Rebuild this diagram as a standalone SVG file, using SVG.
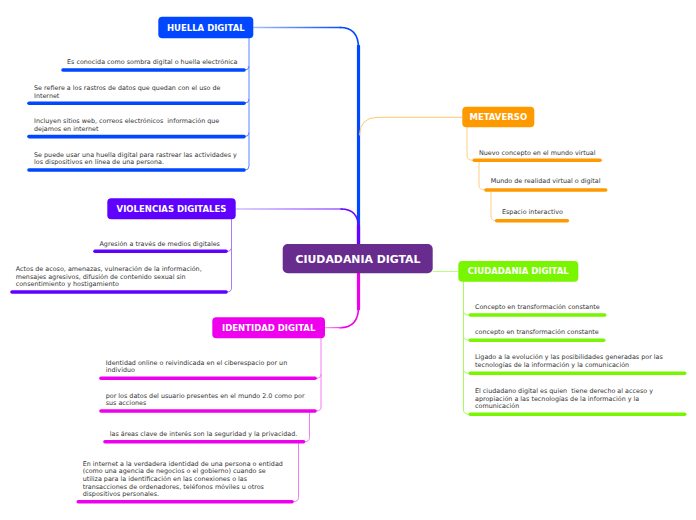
<svg xmlns="http://www.w3.org/2000/svg" width="696" height="520" viewBox="0 0 696 520">
<defs>
<style>
.nt{font-family:"DejaVu Sans",Verdana,sans-serif;font-weight:bold;font-size:8.5px;fill:#fff;text-anchor:middle}
.ct{font-family:"DejaVu Sans",Verdana,sans-serif;font-weight:bold;font-size:10.9px;fill:#fff;text-anchor:middle}
.t{font-family:"DejaVu Sans",Verdana,sans-serif;font-size:6.4px;fill:#333;white-space:pre}
.ul{stroke-width:3.6;stroke-linecap:round;fill:none}
.c{fill:none;stroke-linecap:round}
</style>
<linearGradient id="gB" gradientUnits="userSpaceOnUse" x1="253" y1="0" x2="345" y2="0"><stop offset="0" stop-color="#A9C0FF"/><stop offset="1" stop-color="#0047FF"/></linearGradient>
<linearGradient id="gV" gradientUnits="userSpaceOnUse" x1="236" y1="0" x2="345" y2="0"><stop offset="0" stop-color="#B89CFF"/><stop offset="1" stop-color="#6A00FF"/></linearGradient>
<linearGradient id="gI" gradientUnits="userSpaceOnUse" x1="325" y1="0" x2="350" y2="0"><stop offset="0" stop-color="#F7A0F7"/><stop offset="1" stop-color="#EE00EE"/></linearGradient>
</defs>
<g id="connectors">
<!-- huella -->
<path class="c" d="M358.5,244 V46" stroke="#0047FF" stroke-width="3.2"/>
<path class="c" d="M358.5,48 Q358.5,27.5 340,27.5" stroke="#0047FF" stroke-width="1.6"/>
<path class="c" d="M341,27.5 H253" stroke="url(#gB)" stroke-width="1.3"/>
<!-- violencias -->
<path class="c" d="M358.5,244 V226" stroke="#6A00FF" stroke-width="3.2"/>
<path class="c" d="M358.5,228 Q358.5,209 341,209" stroke="#6A00FF" stroke-width="1.5"/>
<path class="c" d="M342,209 H236" stroke="url(#gV)" stroke-width="1.1"/>
<!-- identidad -->
<path class="c" d="M358.5,273 V309" stroke="#EE00EE" stroke-width="3.2"/>
<path class="c" d="M358.5,307 Q358.5,327.7 340,327.7" stroke="#EE00EE" stroke-width="1.6"/>
<path class="c" d="M341,327.7 H325" stroke="url(#gI)" stroke-width="1.2"/>
<!-- metaverso -->
<path class="c" d="M359.5,135 Q359.5,117.3 378,117.3 H462" stroke="#FFC870" stroke-width="1"/>
<!-- ciudadania -->
<path class="c" d="M433,271.5 H458" stroke="#B8FF80" stroke-width="1"/>
<!-- huella children -->
<g stroke="#5A86FF" stroke-width="1" fill="none">
<path d="M249,38 V166 Q249,170 245,170"/>
<path d="M249,66 Q249,70 245,70"/>
<path d="M249,99 Q249,103 245,103"/>
<path d="M249,132.5 Q249,136.5 245,136.5"/>
</g>
<!-- violencias children -->
<g stroke="#A57BFF" stroke-width="1" fill="none">
<path d="M231.5,219 V288 Q231.5,292 227,292"/>
<path d="M231.5,247 Q231.5,251.3 227,251.3"/>
</g>
<!-- identidad children -->
<g stroke="#F47AF4" stroke-width="1" fill="none">
<path d="M321,338 V407 Q321,411 316,411"/>
<path d="M321,374 Q321,378.3 316,378.3"/>
<path d="M309.5,411 V437.5 Q309.5,441.7 304.5,441.7"/>
<path d="M298.5,441.7 V497.5 Q298.5,501.7 293,501.7"/>
</g>
<!-- metaverso children -->
<g stroke="#FFCE85" stroke-width="1" fill="none">
<path d="M467,127 V156 Q467,160.3 473.5,160.3"/>
<path d="M479,160.3 V185.5 Q479,190 485,190"/>
<path d="M491,190 V216 Q491,220.7 496,220.7"/>
</g>
<!-- ciudadania children -->
<g stroke="#A6FF5C" stroke-width="1" fill="none">
<path d="M463.5,281 V410 Q463.5,414.3 469.5,414.3"/>
<path d="M463.5,311 Q463.5,315 469.5,315"/>
<path d="M463.5,336 Q463.5,340.3 469.5,340.3"/>
<path d="M463.5,369 Q463.5,373.3 469.5,373.3"/>
</g>
</g>
<g id="center">
<rect x="282.7" y="244" width="150" height="29.3" rx="5" fill="#672C8E"/>
<text class="ct" x="358" y="262.7">CIUDADANIA DIGTAL</text>
</g>
<g id="huella">
<rect x="158.3" y="16.7" width="95" height="21.6" rx="4" fill="#0047FF"/>
<text class="nt" x="205.8" y="30.6">HUELLA DIGITAL</text>
</g>
<g id="huella-1">
<line class="ul" x1="63" y1="70" x2="244" y2="70" stroke="#0047FF"/>
<text class="t" x="67" y="64">Es conocida como sombra digital o huella electrónica</text>
</g>
<g id="huella-2">
<line class="ul" x1="29" y1="103.3" x2="244" y2="103.3" stroke="#0047FF"/>
<text class="t" x="34" y="90"><tspan x="34">Se refiere a los rastros de datos que quedan con el uso de</tspan><tspan x="34" dy="7.6">Internet</tspan></text>
</g>
<g id="huella-3">
<line class="ul" x1="29" y1="136.6" x2="244" y2="136.6" stroke="#0047FF"/>
<text class="t" x="34" y="123"><tspan x="34">Incluyen sitios web, correos electrónicos  información que</tspan><tspan x="34" dy="7.6">dejamos en internet</tspan></text>
</g>
<g id="huella-4">
<line class="ul" x1="29" y1="170" x2="244" y2="170" stroke="#0047FF"/>
<text class="t" x="34" y="156.5"><tspan x="34">Se puede usar una huella digital para rastrear las actividades y</tspan><tspan x="34" dy="7.6">los dispositivos en línea de una persona.</tspan></text>
</g>
<g id="violencias">
<rect x="107.3" y="198.3" width="128.4" height="21" rx="4" fill="#6000FF"/>
<text class="nt" x="171.5" y="211.9">VIOLENCIAS DIGITALES</text>
</g>
<g id="violencias-1">
<line class="ul" x1="95" y1="251.3" x2="226" y2="251.3" stroke="#6000FF"/>
<text class="t" x="99.5" y="245.6">Agresión a través de medios digitales</text>
</g>
<g id="violencias-2">
<line class="ul" x1="12" y1="292" x2="226" y2="292" stroke="#6000FF"/>
<text class="t" x="15.7" y="271"><tspan x="15.7">Actos de acoso, amenazas, vulneración de la información,</tspan><tspan x="15.7" dy="7.7">mensajes agresivos, difusión de contenido sexual sin</tspan><tspan x="15.7" dy="7.6">consentimiento y hostigamiento</tspan></text>
</g>
<g id="identidad">
<rect x="212.3" y="317.3" width="112.7" height="21" rx="4" fill="#EE00EE"/>
<text class="nt" x="268.7" y="330.9">IDENTIDAD DIGITAL</text>
</g>
<g id="identidad-1">
<line class="ul" x1="101" y1="378.3" x2="315" y2="378.3" stroke="#EE00EE"/>
<text class="t" x="105.7" y="364.6"><tspan x="105.7">Identidad online o reivindicada en el ciberespacio por un</tspan><tspan x="105.7" dy="7.7">individuo</tspan></text>
</g>
<g id="identidad-2">
<line class="ul" x1="101" y1="411" x2="315" y2="411" stroke="#EE00EE"/>
<text class="t" x="105.7" y="397.6"><tspan x="105.7">por los datos del usuario presentes en el mundo 2.0 como por</tspan><tspan x="105.7" dy="7.7">sus acciones</tspan></text>
</g>
<g id="identidad-3">
<line class="ul" x1="105" y1="441.7" x2="303.5" y2="441.7" stroke="#EE00EE"/>
<text class="t" x="109.7" y="436">las áreas clave de interés son la seguridad y la privacidad.</text>
</g>
<g id="identidad-4">
<line class="ul" x1="78.3" y1="501.7" x2="292" y2="501.7" stroke="#EE00EE"/>
<text class="t" x="82.7" y="465.6"><tspan x="82.7">En internet a la verdadera identidad de una persona o entidad</tspan><tspan x="82.7" dy="7.7">(como una agencia de negocios o el gobierno) cuando se</tspan><tspan x="82.7" dy="7.7">utiliza para la identificación en las conexiones o las</tspan><tspan x="82.7" dy="7.6">transacciones de ordenadores, teléfonos móviles u otros</tspan><tspan x="82.7" dy="7.7">dispositivos personales.</tspan></text>
</g>
<g id="metaverso">
<rect x="462.3" y="106.7" width="72" height="20.6" rx="4" fill="#FF9900"/>
<text class="nt" x="498.3" y="120.2">METAVERSO</text>
</g>
<g id="metaverso-1">
<line class="ul" x1="474.3" y1="160.3" x2="600" y2="160.3" stroke="#FF9900"/>
<text class="t" x="479" y="154.6">Nuevo concepto en el mundo virtual</text>
</g>
<g id="metaverso-2">
<line class="ul" x1="486" y1="190" x2="605.7" y2="190" stroke="#FF9900"/>
<text class="t" x="490.7" y="183.3">Mundo de realidad virtual o digital</text>
</g>
<g id="metaverso-3">
<line class="ul" x1="496.7" y1="220.7" x2="567.3" y2="220.7" stroke="#FF9900"/>
<text class="t" x="502" y="214.3">Espacio interactivo</text>
</g>
<g id="ciudadania">
<rect x="458.3" y="261" width="120" height="20.7" rx="4" fill="#7AF500"/>
<text class="nt" x="518.3" y="274.4">CIUDADANIA DIGITAL</text>
</g>
<g id="ciudadania-1">
<line class="ul" x1="470.3" y1="315" x2="604.7" y2="315" stroke="#7AF500"/>
<text class="t" x="475" y="309">Concepto en transformación constante</text>
</g>
<g id="ciudadania-2">
<line class="ul" x1="470.3" y1="340.3" x2="603.7" y2="340.3" stroke="#7AF500"/>
<text class="t" x="475" y="334">concepto en transformación constante</text>
</g>
<g id="ciudadania-3">
<line class="ul" x1="470.3" y1="373.3" x2="684.7" y2="373.3" stroke="#7AF500"/>
<text class="t" x="475" y="359.3"><tspan x="475">Ligado a la evolución y las posibilidades generadas por las</tspan><tspan x="475" dy="8">tecnologías de la información y la comunicación</tspan></text>
</g>
<g id="ciudadania-4">
<line class="ul" x1="470.3" y1="414.3" x2="684.7" y2="414.3" stroke="#7AF500"/>
<text class="t" x="475" y="393"><tspan x="475">El ciudadano digital es quien  tiene derecho al acceso y</tspan><tspan x="475" dy="7.6">apropiación a las tecnologías de la información y la</tspan><tspan x="475" dy="7.4">comunicación</tspan></text>
</g>
</svg>
